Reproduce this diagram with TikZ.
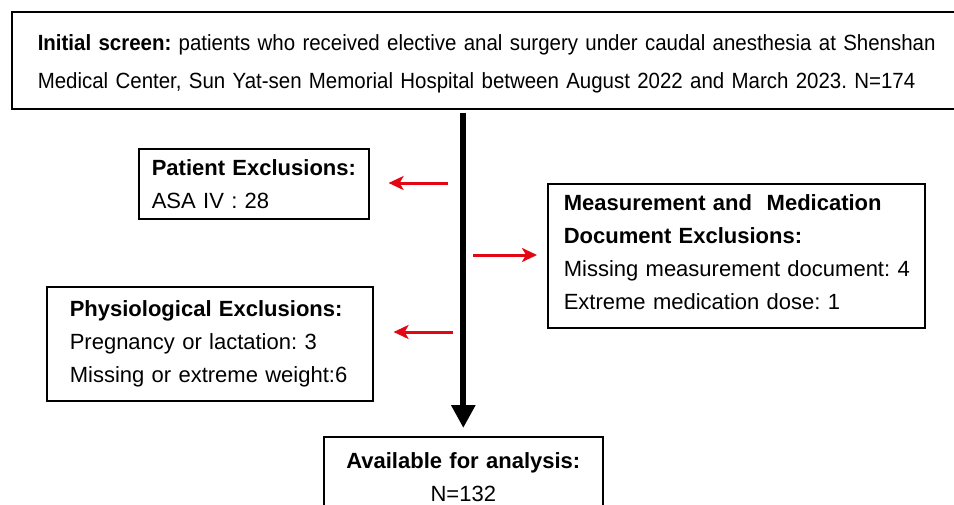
\documentclass[tikz,border=0pt]{standalone}
\usepackage{fontspec}
\setmainfont{Liberation Sans}
\newfontfamily\narrowfont[FakeStretch=0.93]{Liberation Sans}
\usetikzlibrary{arrows.meta}
\definecolor{arrowred}{RGB}{227,6,19}
\frenchspacing
\newcommand{\oneline}[1]{\mbox{#1}}
\tikzset{
  boxnode/.style={draw=black, line width=1.6pt, rectangle, anchor=north west,
    align=left, font=\frenchspacing\fontsize{22}{33}\selectfont, inner ysep=0pt},
  redarrow/.style={draw=arrowred, line width=3pt, -{Stealth[length=15pt,width=14pt,inset=4pt]}},
  mainarrow/.style={draw=black, line width=6pt, -{Triangle[length=23pt,width=23pt]}}
}
\begin{document}
\begin{tikzpicture}[x=1pt,y=-1pt]
\useasboundingbox (0,0) rectangle (954,504);
\clip (0,0) rectangle (954,504);
\node[boxnode, inner xsep=26pt, text width=915pt, minimum height=97pt,
  font=\narrowfont\frenchspacing\fontsize{22}{38}\selectfont] (top) at (11,11)
  {\rule{0pt}{22pt}\oneline{\textbf{Initial screen:} patients who received elective anal surgery under caudal anesthesia at Shenshan}\\
   \oneline{Medical Center, Sun Yat-sen Memorial Hospital between August 2022 and March 2023. N=174}};
\node[boxnode, inner xsep=13pt, text width=204pt, minimum height=70pt] (pat) at (138,148)
  {\oneline{\textbf{Patient Exclusions:}}\\\oneline{ASA IV : 28}};
\node[boxnode, inner xsep=16pt, text width=345pt, minimum height=144pt] (meas) at (547,183)
  {\oneline{\textbf{Measurement and\ \ Medication}}\\\oneline{\textbf{Document Exclusions:}}\\\oneline{Missing measurement document: 4}\\\oneline{Extreme medication dose: 1}\rule[-8pt]{0pt}{8pt}};
\node[boxnode, inner xsep=23pt, text width=280pt, minimum height=114pt] (phys) at (46,286)
  {\oneline{\textbf{Physiological Exclusions:}}\\\oneline{Pregnancy or lactation: 3}\\\oneline{Missing or extreme weight:6}};
\node[boxnode, inner xsep=10pt, text width=259pt, align=center, minimum height=80pt] (avail) at (323,436)
  {\oneline{\textbf{Available for analysis:}}\\\oneline{N=132}};
\draw[mainarrow, shorten <=3pt, shorten >=8pt] (avail.north |- top.south) -- (avail.north);
\coordinate (a1s) at (448,183);
\coordinate (a2s) at (473,255);
\coordinate (a3s) at (453,332);
\draw[redarrow, shorten >=19pt] (a1s) -- (a1s -| pat.east);
\draw[redarrow, shorten >=10pt] (a2s) -- (a2s -| meas.west);
\draw[redarrow, shorten >=20pt] (a3s) -- (a3s -| phys.east);
\end{tikzpicture}
\end{document}
